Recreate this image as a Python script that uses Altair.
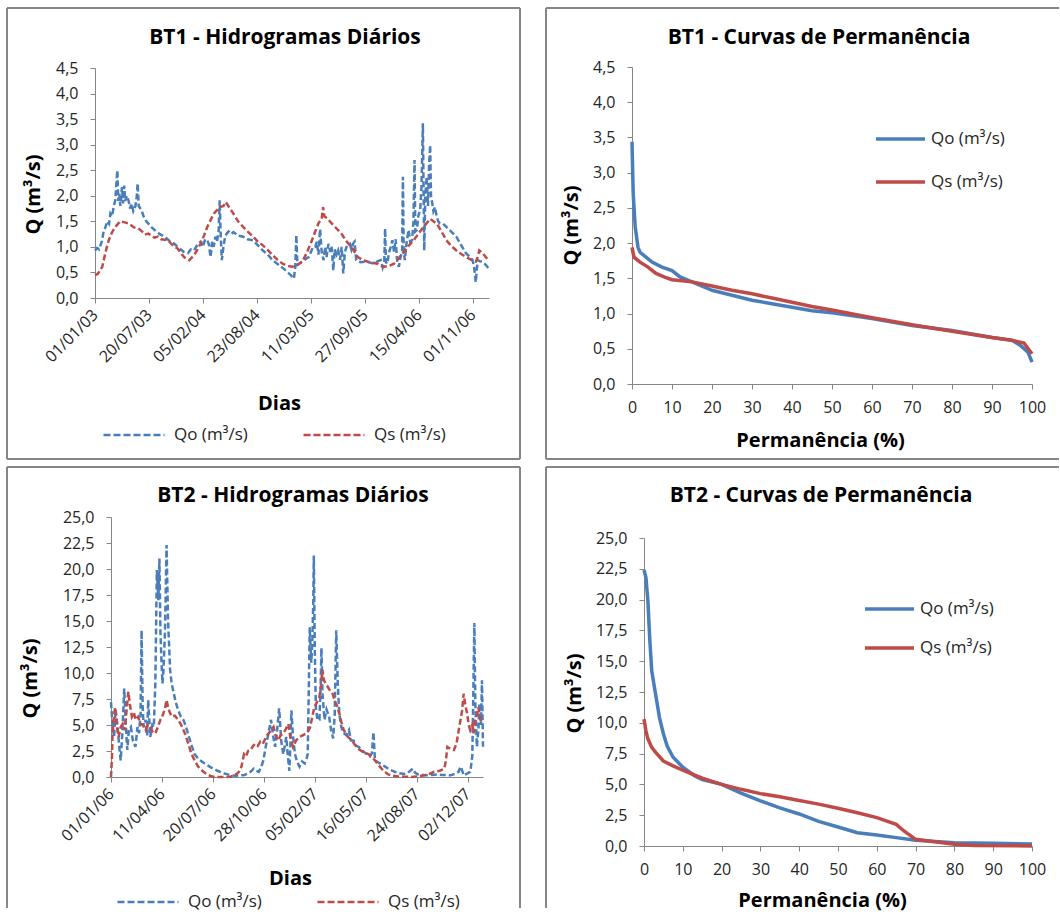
import altair as alt
import pandas as pd

FONT = "Open Sans"
BLUE = "#4A7EBB"
RED = "#BE4B48"
GRAY = "#868686"
TXT = "#262626"
SERIES = ["Qo (m³/s)", "Qs (m³/s)"]

# ---------------- BT1 daily hydrograph (day index from 01/01/2003) ----------------
bt1_ticks = ["01/01/03", "20/07/03", "05/02/04", "23/08/04", "11/03/05", "27/09/05", "15/04/06", "01/11/06"]
bt1_qo_day = [0, 8, 15, 25, 32, 39, 45, 52, 57, 63, 70, 75, 80, 83, 86, 90, 94, 100, 104, 108, 112, 118, 124, 130,
              135, 142, 150, 155, 158, 162, 172, 180, 190, 197, 210, 221, 240, 258, 275, 294, 310, 330, 345, 355,
              367, 380, 391, 400, 408, 416, 422, 428, 434, 440, 446, 452, 458, 462, 466, 470, 476, 482, 488, 495,
              505, 513, 530, 549, 565, 586, 600, 622, 640, 658, 680, 700, 715, 725, 737, 742, 746, 750, 756, 770,
              785, 792, 800, 808, 816, 822, 828, 834, 840, 847, 853, 858, 865, 872, 877, 883, 888, 895, 901, 908,
              914, 920, 926, 932, 938, 945, 950, 956, 962, 968, 975, 985, 999, 1015, 1035, 1048, 1059, 1066, 1072,
              1075, 1078, 1083, 1090, 1096, 1102, 1108, 1114, 1120, 1126, 1132, 1138, 1141, 1144, 1148, 1155, 1162,
              1168, 1175, 1180, 1184, 1187, 1193, 1198, 1205, 1210, 1215, 1218, 1220, 1224, 1229, 1234, 1238, 1242,
              1245, 1248, 1254, 1260, 1266, 1272, 1278, 1290, 1302, 1320, 1339, 1355, 1375, 1390, 1399, 1405, 1409,
              1411, 1414, 1418, 1426, 1436, 1448, 1460]
bt1_qo = [0.93, 0.98, 0.95, 1.10, 1.30, 1.39, 1.50, 1.45, 1.65, 1.60, 1.80, 1.91, 2.30, 2.50, 1.90, 2.04, 1.80, 2.17,
          1.85, 2.20, 1.90, 2.00, 1.91, 1.75, 1.85, 1.70, 1.80, 2.00, 2.24, 1.80, 1.72, 1.60, 1.50, 1.46, 1.38, 1.33,
          1.25, 1.20, 1.12, 1.06, 0.98, 0.90, 0.88, 0.95, 0.93, 1.05, 1.10, 1.00, 1.15, 1.13, 1.05, 0.80, 1.10, 1.00,
          1.20, 1.10, 1.30, 1.91, 1.20, 0.74, 1.00, 1.20, 1.26, 1.30, 1.25, 1.29, 1.22, 1.20, 1.15, 1.13, 1.05, 0.93,
          0.85, 0.74, 0.65, 0.57, 0.50, 0.45, 0.38, 0.60, 1.23, 0.65, 0.67, 0.72, 0.78, 0.80, 0.90, 1.00, 1.00, 1.10,
          0.85, 1.35, 0.90, 0.74, 1.00, 0.80, 1.06, 0.90, 1.00, 0.54, 0.95, 0.85, 0.93, 0.75, 1.00, 0.48, 0.90, 1.00,
          1.00, 1.05, 0.95, 1.06, 1.10, 0.74, 0.72, 0.70, 0.71, 0.70, 0.67, 0.72, 0.74, 0.60, 0.72, 1.36, 0.70, 0.67,
          0.90, 1.00, 1.13, 0.90, 1.15, 0.70, 0.61, 0.80, 0.90, 2.37, 0.90, 0.74, 1.10, 1.33, 1.10, 1.13, 1.50, 2.70,
          1.30, 1.33, 1.60, 1.72, 2.20, 3.42, 1.90, 0.93, 2.00, 2.37, 1.80, 2.60, 2.99, 2.00, 1.91, 1.70, 1.78, 1.60,
          1.50, 1.46, 1.45, 1.39, 1.30, 1.20, 1.05, 0.87, 0.80, 0.74, 0.60, 0.40, 0.31, 0.50, 0.74, 0.72, 0.71, 0.65,
          0.57]
bt1_qs_day = [0, 10, 20, 27, 35, 44, 51, 60, 68, 75, 85, 93, 100, 110, 124, 135, 145, 160, 175, 185, 197, 210, 220,
              233, 245, 258, 270, 285, 295, 306, 318, 330, 342, 349, 357, 367, 378, 391, 404, 416, 428, 440, 452, 464,
              476, 484, 488, 500, 513, 530, 549, 566, 586, 604, 622, 640, 658, 676, 695, 712, 731, 750, 768, 786, 804,
              816, 828, 840, 845, 850, 862, 877, 895, 913, 930, 950, 962, 974, 990, 1011, 1030, 1047, 1060, 1072, 1090,
              1108, 1126, 1144, 1162, 1181, 1200, 1217, 1230, 1242, 1254, 1266, 1284, 1302, 1320, 1339, 1357, 1375,
              1393, 1411, 1418, 1424, 1436, 1448, 1460]
bt1_qs = [0.45, 0.47, 0.55, 0.61, 0.80, 1.00, 1.13, 1.25, 1.33, 1.39, 1.45, 1.50, 1.49, 1.48, 1.46, 1.42, 1.38, 1.36,
          1.30, 1.24, 1.26, 1.22, 1.18, 1.20, 1.15, 1.14, 1.13, 1.05, 1.00, 0.97, 0.88, 0.80, 0.76, 0.74, 0.78, 0.84,
          0.93, 1.06, 1.22, 1.39, 1.52, 1.65, 1.72, 1.78, 1.80, 1.88, 1.85, 1.75, 1.65, 1.50, 1.39, 1.30, 1.20, 1.10,
          1.03, 0.94, 0.84, 0.75, 0.67, 0.63, 0.61, 0.65, 0.71, 0.90, 1.13, 1.30, 1.46, 1.55, 1.78, 1.60, 1.55, 1.46,
          1.36, 1.26, 1.12, 1.00, 0.90, 0.80, 0.75, 0.71, 0.69, 0.67, 0.63, 0.61, 0.63, 0.67, 0.78, 0.90, 1.02, 1.13,
          1.27, 1.39, 1.47, 1.55, 1.50, 1.46, 1.30, 1.13, 1.02, 0.93, 0.86, 0.80, 0.75, 0.71, 0.80, 0.93, 0.88, 0.80,
          0.74]

# ---------------- BT1 duration curves ----------------
bt1_perm_qo = [0, 0.3, 0.8, 1.5, 2, 3.5, 5, 7.5, 10, 12, 15, 20, 25, 30, 35, 40, 45, 50, 60, 70, 80, 90, 95, 97, 99, 100]
bt1_dur_qo = [3.44, 2.70, 2.23, 1.94, 1.87, 1.80, 1.73, 1.66, 1.61, 1.52, 1.45, 1.33, 1.26, 1.19, 1.14, 1.09, 1.04,
              1.01, 0.93, 0.83, 0.76, 0.66, 0.62, 0.55, 0.45, 0.31]
bt1_perm_qs = [0, 0.5, 2, 4, 6, 8, 10, 15, 20, 25, 30, 35, 40, 45, 50, 60, 70, 80, 90, 95, 98, 100]
bt1_dur_qs = [1.94, 1.80, 1.73, 1.66, 1.57, 1.52, 1.48, 1.45, 1.39, 1.33, 1.28, 1.22, 1.16, 1.10, 1.05, 0.94, 0.84,
              0.75, 0.66, 0.62, 0.58, 0.43]

# ---------------- BT2 daily hydrograph (day index from 01/01/2006) ----------------
bt2_ticks = ["01/01/06", "11/04/06", "20/07/06", "28/10/06", "05/02/07", "16/05/07", "24/08/07", "02/12/07"]
bt2_qo_day = [0, 3, 6, 9, 13, 16, 19, 22, 26, 29, 32, 35, 39, 43, 48, 52, 55, 58, 60, 62, 64, 68, 71, 73, 77, 81, 84,
              87, 90, 93, 95, 97, 99, 101, 103, 106, 109, 112, 116, 119, 122, 127, 132, 137, 142, 146, 151, 157, 164,
              172, 184, 195, 209, 222, 235, 245, 254, 262, 267, 274, 280, 285, 290, 295, 299, 304, 309, 314, 318, 322,
              326, 330, 334, 338, 341, 344, 347, 350, 352, 354, 357, 361, 365, 370, 375, 380, 384, 386, 388, 390, 393,
              395, 397, 398, 400, 402, 405, 409, 411, 413, 415, 419, 423, 428, 432, 436, 439, 442, 445, 448, 452, 457,
              462, 467, 471, 476, 481, 486, 494, 502, 508, 512, 515, 518, 525, 531, 538, 547, 557, 566, 576, 585, 592,
              597, 602, 612, 621, 630, 641, 650, 666, 675, 682, 686, 690, 692, 698, 705, 709, 711, 713, 715, 718, 721,
              723, 726, 728, 730]
bt2_qo = [7.2, 5.0, 3.85, 6.5, 4.8, 3.0, 1.6, 4.0, 8.5, 5.0, 2.6, 4.5, 4.8, 3.5, 2.9, 4.8, 4.2, 6.0, 14.1, 7.0, 4.8,
          5.5, 4.0, 7.4, 3.85, 5.0, 4.8, 9.0, 19.9, 17.0, 21.0, 14.0, 11.2, 9.0, 10.3, 14.0, 22.3, 15.0, 10.3, 9.0,
          8.3, 7.2, 6.4, 5.8, 5.5, 5.0, 4.2, 3.2, 2.2, 1.7, 1.3, 0.95, 0.6, 0.35, 0.16, 0.12, 0.16, 0.2, 0.3, 0.5, 0.8,
          0.6, 0.5, 1.0, 1.6, 3.0, 4.2, 5.5, 4.0, 2.9, 4.5, 6.6, 3.5, 2.2, 3.0, 3.85, 2.0, 0.6, 3.0, 6.4, 4.0, 2.2,
          1.5, 1.0, 1.5, 1.3, 1.8, 2.2, 8.0, 14.4, 11.0, 12.8, 17.0, 21.3, 12.0, 6.7, 5.5, 5.5, 8.0, 12.4, 8.0, 5.5,
          6.5, 5.8, 4.5, 3.7, 6.0, 14.1, 9.0, 6.1, 4.8, 4.2, 4.0, 4.5, 3.5, 3.5, 3.0, 2.9, 2.5, 2.2, 2.0, 2.3, 4.3,
          1.6, 1.4, 1.2, 1.0, 0.7, 0.5, 0.35, 0.3, 0.5, 0.8, 0.4, 0.25, 0.2, 0.16, 0.2, 0.25, 0.2, 0.16, 0.3, 0.5,
          1.0, 0.5, 0.16, 0.3, 0.5, 2.0, 8.0, 14.8, 7.0, 2.9, 4.5, 7.1, 5.0, 9.3, 2.9]
bt2_qs_day = [0, 2, 3, 5, 8, 11, 15, 19, 23, 27, 30, 34, 37, 41, 45, 48, 53, 58, 63, 68, 72, 77, 82, 87, 92, 97, 102,
              106, 109, 113, 119, 125, 132, 138, 145, 151, 158, 164, 171, 179, 187, 195, 203, 215, 229, 236, 241, 247,
              251, 256, 261, 265, 269, 274, 279, 283, 288, 293, 298, 302, 306, 311, 315, 319, 323, 328, 333, 338, 343,
              348, 352, 357, 363, 370, 376, 383, 388, 391, 395, 399, 404, 409, 412, 415, 418, 421, 425, 430, 435, 440,
              444, 448, 452, 456, 460, 466, 473, 480, 486, 495, 505, 512, 518, 524, 531, 537, 544, 553, 563, 575, 589,
              602, 615, 625, 634, 645, 654, 657, 660, 666, 673, 678, 683, 686, 689, 692, 695, 699, 702, 705, 709, 712,
              715, 718, 721, 725, 729]
bt2_qs = [0.0, 2.0, 4.2, 5.5, 6.7, 5.0, 3.85, 4.8, 5.1, 4.5, 6.1, 8.2, 7.0, 5.8, 6.2, 5.5, 5.8, 5.1, 5.0, 4.5, 5.0,
          4.8, 4.3, 4.2, 4.8, 5.5, 6.0, 6.6, 7.4, 6.5, 5.8, 5.9, 5.5, 5.0, 4.2, 3.3, 2.2, 1.6, 1.0, 0.6, 0.3, 0.1, 0.0,
          0.0, 0.0, 0.05, 0.16, 0.3, 0.5, 1.0, 2.2, 2.0, 2.5, 2.6, 3.0, 3.2, 3.0, 3.4, 3.2, 3.6, 4.0, 4.3, 4.5, 4.8,
          4.0, 3.5, 4.0, 4.2, 4.6, 5.1, 3.8, 2.9, 3.5, 3.85, 4.0, 4.2, 4.5, 4.8, 5.8, 6.7, 7.2, 7.7, 8.8, 10.3, 9.3,
          9.0, 8.7, 8.3, 8.0, 7.2, 6.8, 6.1, 5.3, 4.6, 4.2, 3.8, 3.5, 3.0, 2.7, 2.4, 2.2, 1.9, 1.6, 1.2, 0.8, 0.5,
          0.25, 0.12, 0.06, 0.03, 0.0, 0.05, 0.16, 0.3, 0.5, 0.6, 0.8, 1.5, 2.9, 2.7, 2.6, 3.2, 4.7, 5.5, 6.4, 8.0,
          7.0, 6.1, 5.0, 4.5, 5.0, 4.2, 5.5, 6.0, 6.7, 5.5, 5.1]

# ---------------- BT2 duration curves ----------------
bt2_perm_qo = [0, 0.5, 1, 1.5, 2, 3, 4, 5, 6, 7.5, 10, 13, 15, 20, 25, 30, 35, 40, 45, 50, 55, 60, 65, 70, 80, 90, 100]
bt2_dur_qo = [22.4, 21.8, 19.9, 16.7, 14.2, 12.3, 10.4, 9.1, 8.1, 7.2, 6.4, 5.7, 5.4, 5.0, 4.3, 3.66, 3.1, 2.6, 2.0,
              1.54, 1.08, 0.9, 0.68, 0.46, 0.27, 0.22, 0.16]
bt2_perm_qs = [0, 0.5, 1, 2, 3, 5, 7.5, 10, 15, 20, 25, 30, 35, 40, 45, 50, 55, 60, 65, 67, 70, 75, 80, 85, 100]
bt2_dur_qs = [10.3, 9.35, 8.7, 8.0, 7.6, 6.9, 6.5, 6.15, 5.5, 5.0, 4.6, 4.25, 4.0, 3.7, 3.4, 3.06, 2.7, 2.3, 1.76,
              1.22, 0.54, 0.35, 0.14, 0.05, 0.0]

y_small = [0, 0.5, 1, 1.5, 2, 2.5, 3, 3.5, 4, 4.5]
y_big = [0, 2.5, 5, 7.5, 10, 12.5, 15, 17.5, 20, 22.5, 25]
perm_ticks = [0, 10, 20, 30, 40, 50, 60, 70, 80, 90, 100]


def long_df(xo, yo, xs, ys, xname):
    return pd.concat([
        pd.DataFrame({xname: xo, "Q": yo, "serie": SERIES[0]}),
        pd.DataFrame({xname: xs, "Q": ys, "serie": SERIES[1]}),
    ], ignore_index=True)


ONE = pd.DataFrame({"k": [0]})


def border(x1, y1, x2, y2, sides):
    segs = {"left": (x1, y1, x1, y2), "top": (x1, y1, x2, y1),
            "right": (x2, y1, x2, y2), "bottom": (x1, y2, x2, y2)}
    out = []
    for s in sides:
        a, b, c, d = segs[s]
        out.append(alt.Chart(ONE).mark_rule(color=GRAY, strokeWidth=2).encode(
            x=alt.value(a), y=alt.value(b), x2=alt.value(c), y2=alt.value(d)))
    return out


YLAB = "replace(format(datum.value, '.1f'), '.', ',')"


def date_expr(ticks, step):
    arr = "[" + ",".join("'%s'" % t for t in ticks) + "]"
    return arr + "[round(datum.value/%d)]" % step


color_scale = alt.Scale(domain=SERIES, range=[BLUE, RED])


def y_axis(values, tx, ty, offset=0):
    return alt.Axis(values=values, labelExpr=YLAB, tickSize=5, labelPadding=12, labelFlush=False,
                    labelOverlap=False, title="Q (m³/s)", titleX=tx, titleY=ty, titleBaseline="middle",
                    titleAlign="center", offset=offset)


def hydro_legend(lx, ly):
    return alt.Legend(title=None, orient="none", legendX=lx, legendY=ly, direction="horizontal",
                      symbolType="stroke", symbolSize=61 * 61, symbolStrokeWidth=2.4, symbolDash=[7, 3],
                      labelOffset=8, columnPadding=54, clipHeight=20, labelFontSize=17)


def dur_legend(lx, ly, rp):
    return alt.Legend(title=None, orient="none", legendX=lx, legendY=ly, direction="vertical",
                      symbolType="stroke", symbolSize=49 * 49, symbolStrokeWidth=3.5,
                      labelOffset=4, rowPadding=rp, clipHeight=20, labelFontSize=17)


# ---------- TL: BT1 hidrogramas ----------
tl_df = long_df(bt1_qo_day, bt1_qo, bt1_qs_day, bt1_qs, "dia")
tl_lines = alt.Chart(tl_df).mark_line(strokeDash=[6, 3], strokeWidth=2.5).encode(
    x=alt.X("dia:Q", scale=alt.Scale(domain=[0, 1460], nice=False, zero=False),
            axis=alt.Axis(values=list(range(0, 1401, 200)), labelExpr=date_expr(bt1_ticks, 200),
                          labelAngle=315, labelAlign="right", labelBaseline="middle", labelPadding=9,
                          tickSize=5, labelFlush=False, labelOverlap=False, title="Dias",
                          titleX=184, titleY=105, titleBaseline="middle", titleAlign="center")),
    y=alt.Y("Q:Q", scale=alt.Scale(domain=[0, 4.5], nice=False, range=[231, 1]),
            axis=y_axis(y_small, -62, 127)),
    color=alt.Color("serie:N", scale=color_scale, legend=hydro_legend(7, 358)),
)
tl = alt.layer(*border(-88, -59, 425, 392, ["left", "top", "right", "bottom"]), tl_lines).properties(
    width=394, height=231,
    title=alt.TitleParams("BT1 - Hidrogramas Diários", anchor="middle", frame="group", dx=-7, dy=45))

# ---------- TR: BT1 curvas de permanência ----------
tr_df = long_df(bt1_perm_qo, bt1_dur_qo, bt1_perm_qs, bt1_dur_qs, "perm")
tr_lines = alt.Chart(tr_df).mark_line(strokeWidth=3.5).encode(
    x=alt.X("perm:Q", scale=alt.Scale(domain=[0, 100], nice=False),
            axis=alt.Axis(values=perm_ticks, labelAngle=0, labelPadding=10, tickSize=5, labelFlush=False,
                          labelOverlap=False, title="Permanência (%)", titleX=188, titleY=56,
                          titleBaseline="middle", titleAlign="center")),
    y=alt.Y("Q:Q", scale=alt.Scale(domain=[0, 4.5], nice=False), axis=y_axis(y_small, -61, 158)),
    color=alt.Color("serie:N", scale=color_scale, legend=dur_legend(242, 62, 23)),
)
tr = alt.layer(*border(-86, -59, 427, 392, ["left", "top", "bottom"]), tr_lines).properties(
    width=400, height=317,
    title=alt.TitleParams("BT1 - Curvas de Permanência", anchor="middle", frame="group", dx=-13, dy=45))

# ---------- BL: BT2 hidrogramas ----------
bl_df = long_df(bt2_qo_day, bt2_qo, bt2_qs_day, bt2_qs, "dia")
bl_lines = alt.Chart(bl_df).mark_line(strokeDash=[6, 3], strokeWidth=2.5).encode(
    x=alt.X("dia:Q", scale=alt.Scale(domain=[0, 730], nice=False, zero=False, range=[16, 388]),
            axis=alt.Axis(values=list(range(0, 701, 100)), labelExpr=date_expr(bt2_ticks, 100),
                          labelAngle=315, labelAlign="right", labelBaseline="middle", labelPadding=9,
                          tickSize=5, labelFlush=False, labelOverlap=False, title="Dias",
                          titleX=195, titleY=101, titleBaseline="middle", titleAlign="center")),
    y=alt.Y("Q:Q", scale=alt.Scale(domain=[0, 25], nice=False), axis=y_axis(y_big, -81, 161, -16)),
    color=alt.Color("serie:N", scale=color_scale, legend=hydro_legend(21, 375)),
)
bl = alt.layer(*border(-88, -50, 425, 391, ["left", "top", "right"]), bl_lines).properties(
    width=388, height=260,
    title=alt.TitleParams("BT2 - Hidrogramas Diários", anchor="middle", frame="group", dx=4, dy=44))

# ---------- BR: BT2 curvas de permanência ----------
br_df = long_df(bt2_perm_qo, bt2_dur_qo, bt2_perm_qs, bt2_dur_qs, "perm")
br_lines = alt.Chart(br_df).mark_line(strokeWidth=3.5).encode(
    x=alt.X("perm:Q", scale=alt.Scale(domain=[0, 100], nice=False, range=[12, 400]),
            axis=alt.Axis(values=perm_ticks, labelAngle=0, labelPadding=10, tickSize=5, labelFlush=False,
                          labelOverlap=False, title="Permanência (%)", titleX=190, titleY=54,
                          titleBaseline="middle", titleAlign="center")),
    y=alt.Y("Q:Q", scale=alt.Scale(domain=[0, 25], nice=False, range=[329, 21]),
            axis=y_axis(y_big, -70, 176, -12)),
    color=alt.Color("serie:N", scale=color_scale, legend=dur_legend(231, 82, 19)),
)
br = alt.layer(*border(-86, -50, 427, 391, ["left", "top"]), br_lines).properties(
    width=400, height=329,
    title=alt.TitleParams("BT2 - Curvas de Permanência", anchor="middle", frame="group", dx=-11, dy=44))

chart = alt.concat(tl, tr, bl, br, columns=2, spacing={"row": 133, "column": 143}, bounds="flush").resolve_scale(
    color="independent").resolve_legend(color="independent").properties(
    padding={"left": 6, "top": 7, "right": 0, "bottom": 0}, background="white"
).configure_axis(
    domainColor=GRAY, tickColor=GRAY, domainWidth=1, tickWidth=1, labelFont=FONT, labelFontSize=16,
    labelColor=TXT, titleFont=FONT, titleFontSize=20, titleFontWeight="bold", titleColor="#000000", grid=False
).configure_legend(
    labelFont=FONT, labelColor=TXT, padding=0, offset=0
).configure_title(
    font=FONT, fontSize=21, fontWeight="bold", color="#000000"
).configure_view(strokeWidth=0)

chart.save("out.html", embed_options={"renderer": "svg", "actions": False})
